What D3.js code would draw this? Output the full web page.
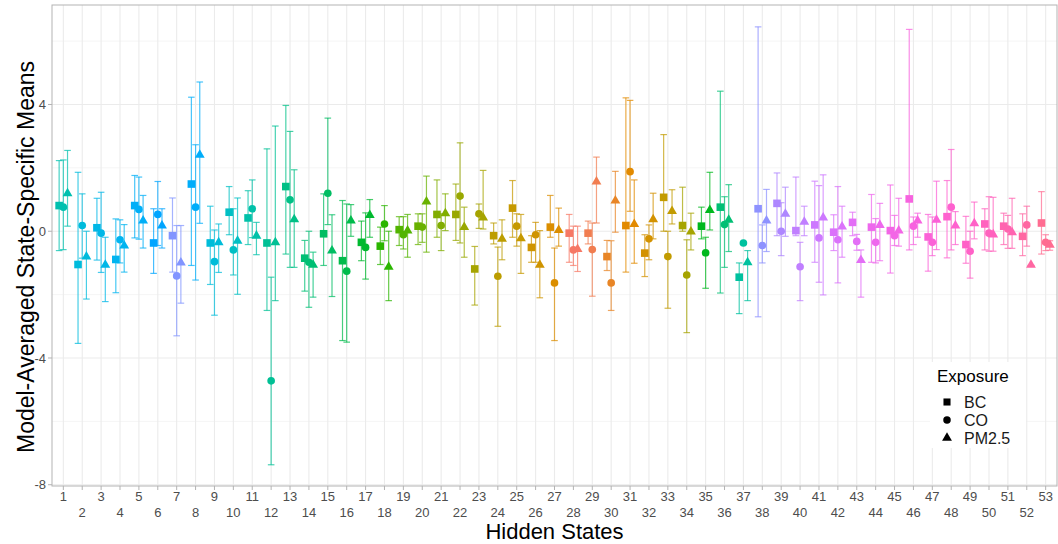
<!DOCTYPE html>
<html><head><meta charset="utf-8">
<script src="https://cdn.jsdelivr.net/npm/d3@7"></script>
<style>body{margin:0;background:#fff}svg{display:block;font-family:"Liberation Sans",Arial,sans-serif}</style>
</head><body><svg id="c" width="1058" height="544"></svg>
<script>
const states = d3.range(1, 54);
const exposures = ["BC", "CO", "PM2.5"];
const yTicks = [-8, -4, 0, 4];

const bcMean = [0.81,-1.05,0.11,-0.89,0.81,-0.37,-0.14,1.49,-0.37,0.60,0.42,-0.37,1.41,-0.85,-0.08,-0.93,-0.35,-0.47,0.05,0.16,0.53,0.53,-1.19,-0.14,0.73,-0.51,0.13,-0.06,-0.06,-0.80,0.18,-0.69,1.07,0.18,0.16,0.76,-1.45,0.71,0.88,0.02,0.20,-0.03,0.28,0.13,0.02,1.02,-0.18,0.46,-0.42,0.23,0.16,-0.16,0.26];
const bcLo = [-0.61,-3.54,-0.91,-1.94,-0.21,-1.33,-1.29,-1.08,-1.68,-0.11,-0.42,-2.50,-0.72,-1.89,-1.08,-3.45,-0.93,-1.05,-0.45,-0.42,-0.19,-0.29,-2.33,-0.40,-0.19,-0.98,-0.19,-0.98,-0.40,-1.24,-1.29,-1.43,0.00,0.00,-0.24,-1.95,-2.60,-2.70,-0.14,-0.14,-0.98,-0.61,-0.14,-0.98,-1.32,-0.59,-1.26,-0.84,-1.01,-0.59,-0.42,-0.77,-0.72];
const bcHi = [2.23,1.86,1.04,0.39,1.76,0.71,1.05,4.23,0.79,1.41,1.28,2.60,3.97,-0.29,1.18,0.97,0.32,0.13,0.46,0.55,1.62,1.49,-0.48,0.26,1.60,-0.14,1.13,0.53,0.32,-0.29,4.21,-0.11,3.05,1.39,0.76,4.42,-1.00,6.45,1.84,1.71,1.58,0.52,0.60,1.16,1.46,6.37,0.53,1.60,0.47,0.71,0.57,0.55,1.25];

const coMean = [0.76,0.18,-0.06,-0.27,0.69,0.53,-1.41,0.76,-0.96,-0.59,0.71,-4.72,0.99,-0.98,1.20,-1.26,-0.51,0.23,-0.11,0.13,0.18,1.11,0.55,-1.42,0.16,-0.11,-1.63,-0.59,-0.58,-1.63,1.88,-0.24,-0.80,-1.38,-0.68,0.21,-0.37,-0.45,0.00,-1.12,-0.21,-0.27,-0.32,-0.35,-0.14,0.16,-0.35,0.76,-0.63,-0.06,0.07,0.20,-0.35];
const coLo = [-0.58,-0.85,-1.30,-1.00,-0.25,-0.45,-3.30,-1.54,-2.65,-1.38,-0.20,-7.37,-1.14,-2.40,0.21,-3.50,-1.51,-0.30,-0.56,-0.35,-0.61,-0.37,0.09,-3.00,-0.47,-0.98,-3.45,-1.08,-2.05,-2.50,0.63,-0.90,-2.43,-3.20,-1.80,-1.14,-0.37,-1.00,-0.77,-2.19,-1.61,-1.63,-0.60,-1.00,-0.45,-0.42,-0.77,-0.59,-1.48,-0.63,-0.54,-0.47,-0.61];
const coHi = [2.25,1.18,1.23,0.36,1.71,1.57,0.18,2.73,0.04,0.71,1.62,-1.45,3.15,0.00,3.57,0.86,0.58,0.81,0.46,0.55,0.55,2.79,0.86,-0.50,0.55,0.28,-0.53,0.16,0.26,-0.30,4.13,0.20,0.00,-0.27,-0.19,1.09,-0.37,0.20,0.90,-0.35,1.44,1.41,-0.10,0.40,0.50,0.45,0.45,2.58,0.00,1.09,0.50,0.79,-0.11];

const pmMean = [1.18,-0.82,-1.08,-0.47,0.32,0.16,-1.01,2.39,-0.37,-0.32,-0.16,-0.37,0.36,-1.08,-0.63,0.32,0.49,-1.14,0.00,0.92,0.55,0.11,0.41,-0.26,-0.24,-1.08,0.02,-0.58,1.55,0.95,0.21,0.36,0.62,-0.03,0.65,0.34,-1.00,0.32,0.53,0.28,0.41,0.13,-0.93,0.18,0.00,0.32,0.34,0.16,0.23,-0.12,-0.05,-1.08,-0.45];
const pmLo = [0.16,-2.14,-2.22,-1.29,-0.53,-0.53,-2.27,0.25,-1.30,-1.99,-0.74,-2.19,-1.14,-2.08,-2.06,-0.16,-0.19,-2.19,-0.82,-0.66,0.02,-0.82,0.07,-0.90,-1.33,-2.10,-0.47,-1.27,0.26,-0.03,-1.01,-0.24,0.23,-0.59,0.04,-0.64,-2.19,-0.64,-0.16,-0.14,-2.01,-0.82,-2.08,-0.93,-0.47,-0.19,-0.58,-0.42,-0.24,-0.63,-0.54,-1.08,-0.60];
const pmHi = [2.55,0.00,-0.19,0.21,1.13,0.71,0.18,4.71,0.23,1.05,0.28,3.32,1.94,-0.66,0.52,0.84,1.00,0.00,0.53,1.74,1.18,0.76,1.92,0.36,0.53,0.02,0.73,0.16,2.34,1.89,1.62,1.20,1.31,0.57,1.86,1.47,-0.61,1.32,1.39,0.79,1.78,0.79,-0.59,0.88,1.04,0.57,1.58,0.62,0.92,1.07,1.04,-1.08,-0.30];

// colour hue (degrees, ggplot HCL palette) assigned to each hidden state
const stateHues = [183,210,218,225,232,245,262,235,208,195,180,170,163,155,148,140,133,125,118,112,103,92,85,72,65,58,48,18,25,35,42,55,68,85,130,155,175,265,275,282,288,295,300,308,313,318,323,328,333,338,345,352,360];

function hclR(h, c, l) {
  const hr = h * Math.PI / 180;
  const U = c * Math.cos(hr), V = c * Math.sin(hr);
  const Xn = 95.047, Yn = 100, Zn = 108.883;
  const d = Xn + 15 * Yn + 3 * Zn;
  const un = 4 * Xn / d, vn = 9 * Yn / d;
  const Y = l > 8 ? Yn * Math.pow((l + 16) / 116, 3) : Yn * l / 903.3;
  const up = U / (13 * l) + un, vp = V / (13 * l) + vn;
  const X = Y * 9 * up / (4 * vp);
  const Z = Y * (12 - 3 * up - 20 * vp) / (4 * vp);
  const x = X / 100, y = Y / 100, z = Z / 100;
  let r = 3.240479 * x - 1.537150 * y - 0.498535 * z;
  let g = -0.969256 * x + 1.875992 * y + 0.041556 * z;
  let b = 0.055648 * x - 0.204043 * y + 1.057311 * z;
  const gam = v => { v = v <= 0.0031308 ? 12.92 * v : 1.055 * Math.pow(v, 1 / 2.4) - 0.055; return Math.round(Math.max(0, Math.min(1, v)) * 255); };
  return d3.rgb(gam(r), gam(g), gam(b)).formatHex();
}

const svg = d3.select("#c");
const P = {l: 52, r: 1057, t: 5, b: 486};

const x = d3.scalePoint().domain(states).range([P.l, P.r]).padding(0.6);
const y = d3.scaleLinear().domain([-8.04, 7.14]).range([P.b, P.t]);
const step = x.step();
const dodge = {BC: -0.222 * step, CO: 0, "PM2.5": 0.222 * step};

// gridlines
const g = svg.append("g");
[-6, -2, 2, 6].forEach(v => g.append("line").attr("x1", P.l).attr("x2", P.r).attr("y1", y(v)).attr("y2", y(v)).attr("stroke", "#F2F2F2").attr("stroke-width", 0.8));
yTicks.forEach(v => g.append("line").attr("x1", P.l).attr("x2", P.r).attr("y1", y(v)).attr("y2", y(v)).attr("stroke", "#EBEBEB").attr("stroke-width", 1.1));
states.forEach(s => g.append("line").attr("x1", x(s)).attr("x2", x(s)).attr("y1", P.t).attr("y2", P.b).attr("stroke", "#EBEBEB").attr("stroke-width", 1.1));

// data rows
const rows = [];
states.forEach((s, i) => {
  rows.push({s, e: "BC", m: bcMean[i], lo: bcLo[i], hi: bcHi[i]});
  rows.push({s, e: "CO", m: coMean[i], lo: coLo[i], hi: coHi[i]});
  rows.push({s, e: "PM2.5", m: pmMean[i], lo: pmLo[i], hi: pmHi[i]});
});
const col = s => hclR(stateHues[s - 1], 100, 65);
const cap = 3.3;

const eb = svg.append("g").attr("stroke-width", 1.2).attr("fill", "none");
rows.forEach(r => {
  const cx = x(r.s) + dodge[r.e];
  const c = col(r.s);
  const gg = eb.append("g").attr("stroke", c).attr("stroke-opacity", 0.72);
  gg.append("line").attr("x1", cx).attr("x2", cx).attr("y1", y(r.lo)).attr("y2", y(r.hi));
  gg.append("line").attr("x1", cx - cap).attr("x2", cx + cap).attr("y1", y(r.lo)).attr("y2", y(r.lo));
  gg.append("line").attr("x1", cx - cap).attr("x2", cx + cap).attr("y1", y(r.hi)).attr("y2", y(r.hi));
});

const sym = {BC: d3.symbol().type(d3.symbolSquare).size(58),
             CO: d3.symbol().type(d3.symbolCircle).size(46),
             "PM2.5": d3.symbol().type(d3.symbolTriangle).size(42)};
const pts = svg.append("g");
rows.forEach(r => {
  pts.append("path").attr("d", sym[r.e]())
    .attr("transform", `translate(${x(r.s) + dodge[r.e]},${y(r.m) + (r.e === "PM2.5" ? -0.5 : 0)})`)
    .attr("fill", col(r.s));
});

// panel border
svg.append("rect").attr("x", P.l).attr("y", P.t).attr("width", P.r - P.l).attr("height", P.b - P.t)
  .attr("fill", "none").attr("stroke", "#B3B3B3").attr("stroke-width", 1);

// y axis
yTicks.forEach(v => {
  svg.append("line").attr("x1", P.l - 4).attr("x2", P.l).attr("y1", y(v)).attr("y2", y(v)).attr("stroke", "#B3B3B3");
  svg.append("text").attr("x", P.l - 6).attr("y", y(v)).attr("dy", "0.35em").attr("text-anchor", "end")
    .attr("font-size", 13).attr("fill", "#4D4D4D").text(v);
});
// x axis
states.forEach((s, i) => {
  svg.append("line").attr("x1", x(s)).attr("x2", x(s)).attr("y1", P.b).attr("y2", P.b + 4).attr("stroke", "#B3B3B3");
  svg.append("text").attr("x", x(s)).attr("y", P.b + (i % 2 === 0 ? 15 : 31)).attr("text-anchor", "middle")
    .attr("font-size", 13).attr("fill", "#4D4D4D").text(s);
});

svg.append("text").attr("transform", `translate(34,257) rotate(-90)`).attr("text-anchor", "middle")
  .attr("font-size", 23).attr("fill", "#000").text("Model-Averaged State-Specific Means");
svg.append("text").attr("x", (P.l + P.r) / 2).attr("y", 539).attr("text-anchor", "middle")
  .attr("font-size", 22).attr("fill", "#000").text("Hidden States");

// legend
const lg = svg.append("g");
lg.append("rect").attr("x", 930).attr("y", 362).attr("width", 96).attr("height", 86).attr("fill", "#fff");
lg.append("text").attr("x", 937).attr("y", 382).attr("font-size", 17).attr("fill", "#000").text("Exposure");
exposures.forEach((e, i) => {
  const cy = 402 + i * 18;
  lg.append("path").attr("d", d3.symbol().type(e === "BC" ? d3.symbolSquare : e === "CO" ? d3.symbolCircle : d3.symbolTriangle).size(e === "BC" ? 50 : e === "CO" ? 44 : 42)())
    .attr("transform", `translate(947,${cy})`).attr("fill", "#000");
  lg.append("text").attr("x", 964).attr("y", cy).attr("dy", "0.36em").attr("font-size", 16).attr("fill", "#1A1A1A").text(e);
});
</script></body></html>
